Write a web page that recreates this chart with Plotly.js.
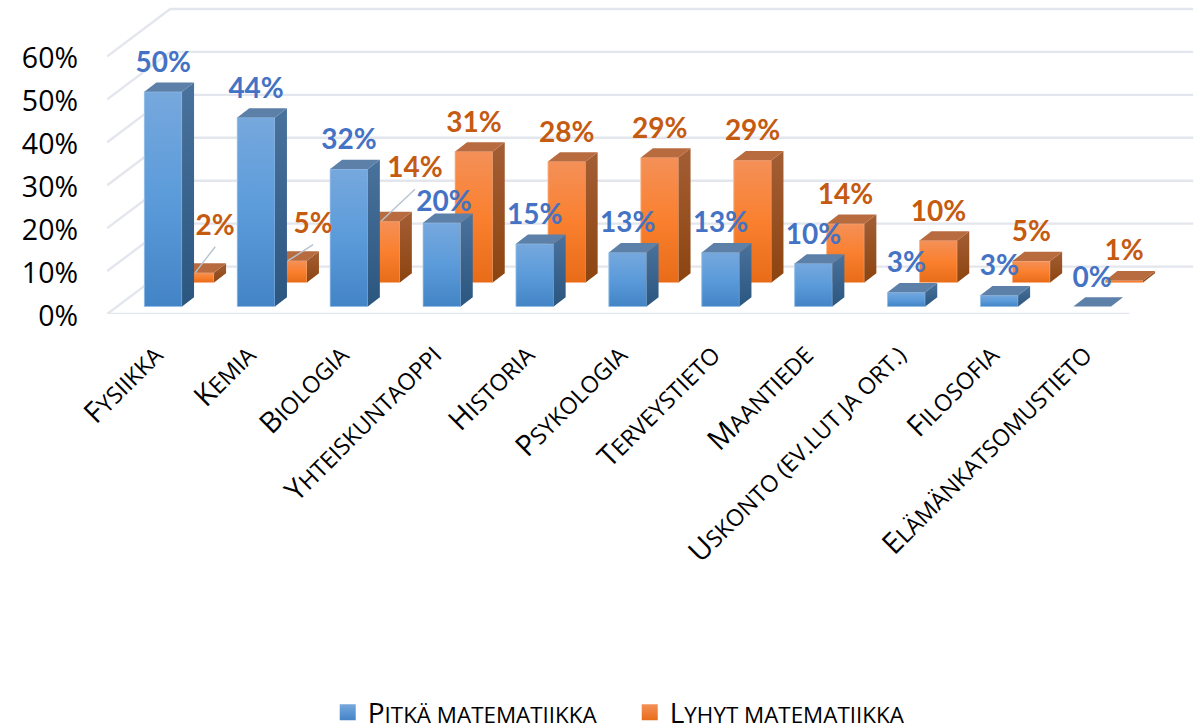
<!DOCTYPE html>
<html>
<head>
<meta charset="utf-8">
<script src="https://cdn.plot.ly/plotly-3.0.1.min.js"></script>
<style>html,body{margin:0;padding:0;background:#fff}#chart{width:1202px;height:725px}</style>
</head>
<body>
<div id="chart"></div>
<script>
var categories = ['Fysiikka','Kemia','Biologia','Yhteiskuntaoppi','Historia','Psykologia','Terveystieto','Maantiede','Uskonto (ev.lut ja ort.)','Filosofia','Elämänkatsomustieto'];
var pitka = [50,44,32,19.5,14.6,12.6,12.6,10,3.3,2.6,0];
var lyhyt = [2.3,5.1,14.3,30.5,28.2,29.1,28.5,13.7,9.8,5,0.5];
var seriesNames = ['Pitkä matematiikka','Lyhyt matematiikka'];
var gridValues = [0,10,20,30,40,50,60];

var PXX = 92.9, PXY = 4.3;          // pixels per x unit and per percent
var W = 37.7/PXX, DX = 12/PXX, DY = 9.3/PXY;
var BLUE_BASE = 1.75, ORANGE_BASE = 7.33, ORANGE_SHIFT = 32/PXX;
var LABEL_LIFT = 27/PXY;
var WALL_DX = 63/PXX, WALL_DY = 47.5/PXY, FLOOR_L = -56/PXX, FLOOR_R = 966/PXX, BACK_R = 1030/PXX;
var GRID = '#E3E6ED';
var TICK_FONT = '"Open Sans", sans-serif';

var blueStyle = {
  face:[[0,'#76A8DD'],[0.5,'#5B9BDA'],[1,'#4384C6']], edge:'rgba(160,198,235,0.75)',
  side:[[0,'#49729C'],[1,'#2B5680']], top:'#5C80A8', solid:'#5B9BD5', text:'#4472C4'
};
var orangeStyle = {
  face:[[0,'#F49058'],[0.5,'#FA802F'],[1,'#E86C18']], edge:'rgba(250,190,150,0.75)',
  side:[[0,'#A45E35'],[1,'#8C440F']], top:'#B96B40', solid:'#ED7D31', text:'#C55A11'
};

function poly(xs, ys, grad, solid, edge){
  var t = {type:'scatter', mode:edge?'lines':'none', x:xs, y:ys, fill:'toself', hoverinfo:'skip', showlegend:false};
  if (edge) t.line = {color:edge, width:1};
  if (grad) t.fillgradient = {type:'vertical', colorscale:grad.slice().map(function(c){return [1-c[0],c[1]];}).reverse()};
  else t.fillcolor = solid;
  return t;
}
function barParts(values, shift, base, st){
  var out = [];
  values.forEach(function(v,i){
    var l = i+shift-W/2, r = i+shift+W/2, t = base+v;
    if (v > 0) {
      out.push(poly([l,r,r,l,l],[base,base,t,t,base],st.face,null,st.edge));
      out.push(poly([r,r+DX,r+DX,r,r],[base,base+DY,t+DY,t,base],st.side));
    }
    out.push(poly([l,r,r+DX,l+DX,l],[t,t,t+DY,t+DY,t],null,st.top));
  });
  return out;
}
// Small capitals: first letter large, the rest at 80 % in upper case
function smallCaps(s){
  return s.charAt(0) + '<span style="font-size:80%">' + s.slice(1).toUpperCase() + '</span>';
}

var traces = [];
traces.push({type:'bar', x:categories.map(function(c,i){return i;}), y:pitka, base:BLUE_BASE, width:W, marker:{color:blueStyle.solid}, hoverinfo:'skip', showlegend:false});
traces.push({type:'bar', x:categories.map(function(c,i){return i+ORANGE_SHIFT;}), y:lyhyt, base:ORANGE_BASE, width:W, marker:{color:orangeStyle.solid}, hoverinfo:'skip', showlegend:false});

var gx=[], gy=[];
gridValues.forEach(function(v){
  gx.push(FLOOR_L, FLOOR_L+WALL_DX, BACK_R, null);
  gy.push(v, v+WALL_DY, v+WALL_DY, null);
});
gx.push(FLOOR_L, FLOOR_R); gy.push(0,0);
traces.push({type:'scatter', mode:'lines', x:gx, y:gy, line:{color:GRID,width:2.4}, hoverinfo:'skip', showlegend:false, cliponaxis:false});

traces = traces.concat(barParts(lyhyt, ORANGE_SHIFT, ORANGE_BASE, orangeStyle));
traces = traces.concat(barParts(pitka, 0, BLUE_BASE, blueStyle));

// hand-placed labels: pixels right, pixels up from the bar top
var movedLyhyt = {0:[20,45],1:[25,35],2:[34,51]};
var movedPitka = {3:[2,19]};
var lx=[], ly=[];
Object.keys(movedLyhyt).forEach(function(k){
  var i=+k, m=movedLyhyt[k], x=i+ORANGE_SHIFT, y=lyhyt[i]+ORANGE_BASE;
  lx.push(x, x+m[0]/PXX, null);
  ly.push(y, y+(m[1]-19)/PXY, null);
});
traces.push({type:'scatter', mode:'lines', x:lx, y:ly, line:{color:'#B7C2CE',width:1.4}, hoverinfo:'skip', showlegend:false});

var labelFont = {family:'Lato, sans-serif', size:28, weight:700};
function fmt(v){return Math.round(v)+'%';}
traces.push({type:'scatter', mode:'text',
  x:lyhyt.map(function(v,i){return i+ORANGE_SHIFT+(movedLyhyt[i]?movedLyhyt[i][0]/PXX:0);}),
  y:lyhyt.map(function(v,i){return v+ORANGE_BASE+(movedLyhyt[i]?movedLyhyt[i][1]/PXY:LABEL_LIFT);}),
  text:lyhyt.map(fmt), textposition:'middle center', cliponaxis:false,
  textfont:Object.assign({color:orangeStyle.text},labelFont), hoverinfo:'skip', showlegend:false});
traces.push({type:'scatter', mode:'text',
  x:pitka.map(function(v,i){return i+(movedPitka[i]?movedPitka[i][0]/PXX:0);}),
  y:pitka.map(function(v,i){return v+BLUE_BASE+(movedPitka[i]?movedPitka[i][1]/PXY:LABEL_LIFT);}),
  text:pitka.map(fmt), textposition:'middle center', cliponaxis:false,
  textfont:Object.assign({color:blueStyle.text},labelFont), hoverinfo:'skip', showlegend:false});

[blueStyle, orangeStyle].forEach(function(st,k){
  traces.push({type:'scatter', mode:'markers', x:[null], y:[null], name:smallCaps(seriesNames[k]),
    marker:{symbol:'square', size:18, color:st.face[0][1], gradient:{type:'vertical', color:st.face[2][1]}}, hoverinfo:'skip', showlegend:true});
});

var tickIdx = categories.map(function(c,i){return i;});
var layout = {
  width:1202, height:725, paper_bgcolor:'#fff', plot_bgcolor:'rgba(0,0,0,0)',
  margin:{l:84, r:0, t:0, b:410.5, pad:0, autoexpand:false},
  barmode:'overlay', showlegend:true, hovermode:false,
  font:{family:TICK_FONT, color:'#000'},
  xaxis:{range:[(84-163.2)/PXX,(1202-163.2)/PXX], tickmode:'array', tickvals:tickIdx, ticktext:categories.map(smallCaps),
    tickangle:-45, showgrid:false, zeroline:false, showline:false, ticks:'', ticklabelstandoff:17, ticklabelshift:-9, automargin:false,
    tickfont:{family:TICK_FONT, size:29, color:'#000'}},
  yaxis:{range:[0,314.5/PXY], tickmode:'array', tickvals:gridValues, ticktext:gridValues.map(function(v){return v+'%';}),
    showgrid:false, zeroline:false, showline:false, ticks:'', ticklabelstandoff:5, ticklabelshift:2, automargin:false,
    tickfont:{family:TICK_FONT, size:28.5, color:'#000'}},
  legend:{orientation:'h', x:0.218, xanchor:'left', y:-1.19, yanchor:'top', bgcolor:'rgba(0,0,0,0)', entrywidth:257,
    font:{family:TICK_FONT, size:28, color:'#000'}, itemclick:false, itemdoubleclick:false}
};
Plotly.newPlot('chart', traces, layout, {displayModeBar:false, responsive:false, staticPlot:true});
</script>
</body>
</html>
